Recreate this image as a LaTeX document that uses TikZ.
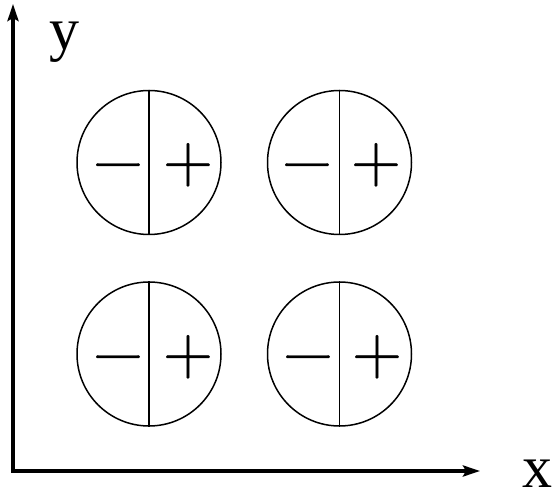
\documentclass[tikz,border=0pt]{standalone}
\usepackage{fontspec}
\newfontfamily\labelfont{Liberation Serif}
\newfontfamily\signfont[FakeBold=0.6]{Latin Modern Roman}
\usetikzlibrary{arrows.meta}

\begin{document}
\begin{tikzpicture}[
  x=1pt, y=-1pt,
  axis/.style={line width=4pt, line join=miter,
               {Stealth[length=17pt, width=11pt, inset=3pt]}-{Stealth[length=17pt, width=11pt, inset=3pt]}},
  dipole/.style={draw, line width=1.5pt, circle, minimum size=144pt, inner sep=0pt},
  split/.style={line width=1.2pt},
  sign/.style={anchor=base, inner sep=0pt, font=\signfont\fontsize{69}{69}\selectfont},
  alab/.style={anchor=base, inner sep=0pt, font=\labelfont\fontsize{60}{60}\selectfont},
]
  \useasboundingbox (0,0) rectangle (558,497);

  % axes
  \coordinate (origin) at (13,471);
  \coordinate (xend) at (480,471);
  \coordinate (yend) at (13,4);
  \draw[axis] (yend) -- (origin) -- (xend);
  \node[alab] (ylab) at (64,50) {y};
  \node[alab] (xlab) at (537,488) {x};

  % circles
  \node[dipole] (tl) at (149,162.5) {};
  \node[dipole] (tr) at (339.5,162.5) {};
  \node[dipole] (bl) at (149,354) {};
  \node[dipole] (br) at (339.5,354) {};
  \draw[split] (tl.north) -- (tl.south);
  \draw[split] (tr.north) -- (tr.south);
  \draw[split] (bl.north) -- (bl.south);
  \draw[split] (br.north) -- (br.south);

  % signs
  \node[sign] (tlm) at (118,182) {−};
  \node[sign] (tlp) at (188,182) {+};
  \node[sign] (trm) at (307,182) {−};
  \node[sign] (trp) at (376,182) {+};
  \node[sign] (blm) at (118,374) {−};
  \node[sign] (blp) at (188,374) {+};
  \node[sign] (brm) at (308,374) {−};
  \node[sign] (brp) at (377,374) {+};
\end{tikzpicture}
\end{document}
